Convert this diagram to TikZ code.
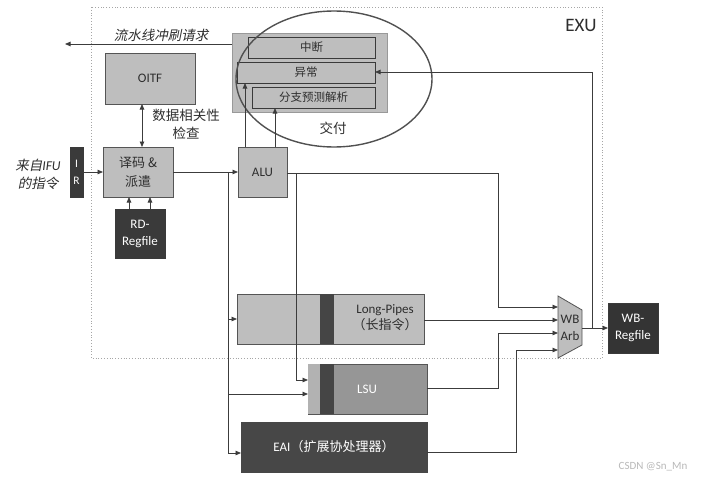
\documentclass[tikz,border=0pt]{standalone}
\usepackage{fontspec}
\setmainfont{Carlito}
\newfontfamily\cjk{Noto Sans CJK SC}
\newfontfamily\cjkit{Noto Sans CJK SC}[FakeSlant=0.2]
\usetikzlibrary{arrows.meta,shapes.geometric}
\definecolor{gfill}{HTML}{BEBEBE}
\definecolor{darkc}{HTML}{3A3A3A}
\definecolor{eaic}{HTML}{474747}
\definecolor{stripec}{HTML}{454545}
\definecolor{lsuc}{HTML}{969696}
\definecolor{lsul}{HTML}{B2B2B2}
\definecolor{linec}{HTML}{3C3C3C}
\definecolor{borderc}{HTML}{555555}
\definecolor{textc}{HTML}{2E2E2E}
\begin{document}
\begin{tikzpicture}[x=1pt,y=-1pt,
  font=\fontsize{13}{16}\selectfont,
  line/.style={draw=linec, line width=0.8pt},
  arr/.style={line, -{Triangle[length=5.5pt,width=4.5pt]}},
  darr/.style={line, {Triangle[length=5.5pt,width=4.5pt]}-{Triangle[length=5.5pt,width=4.5pt]}},
  gbox/.style={draw=borderc, fill=gfill, line width=0.8pt, inner sep=0pt, outer sep=0pt, text=textc, align=center},
  dbox/.style={draw=darkc, fill=darkc, line width=0.8pt, inner sep=0pt, outer sep=0pt, text=white, align=center},
  bar/.style={draw=darkc, fill=gfill, line width=0.8pt, inner sep=0pt, outer sep=0pt, text=textc, minimum height=21, font=\cjk\fontsize{11.5}{14}\selectfont},
  lbl/.style={inner sep=0pt, text=textc, align=center},
]
\useasboundingbox (0,0) rectangle (710,479);
\fill[white] (0,0) rectangle (710,479);

% EXU border
\draw[gray!70, dotted, line width=0.8pt] (91,7) rectangle (602,358);
\node[lbl, font=\fontsize{19}{22}\selectfont] (exu) at (581,25) {EXU};

% commit block
\node[gbox, draw=gray!80, minimum width=155, minimum height=79] (commit) at (309.5,72.5) {};
\node[bar, minimum width=127] (intr) at (311.5,47.5) {中断};
\node[bar, minimum width=138] (exc) at (306,72.5) {异常};
\node[bar, minimum width=123] (brc) at (313.5,97.5) {分支预测解析};
\node[draw=linec!90, line width=1.4pt, ellipse, minimum width=196, minimum height=136, inner sep=0pt] (ell) at (334,79) {};
\node[lbl, font=\cjk\fontsize{13.5}{16}\selectfont] (jf) at (333,128) {交付};

% flush request
\coordinate (flushend) at (65,44);
\draw[arr] (commit.west |- flushend) -- (flushend);
\node[lbl, font=\cjkit\fontsize{13.5}{16}\selectfont] (flushlbl) at (161,35) {流水线冲刷请求};

% OITF
\node[gbox, minimum width=90, minimum height=51, font=\fontsize{13}{16}\selectfont] (oitf) at (150,78.5) {OITF};
\node[lbl, font=\cjk\fontsize{13.5}{18}\selectfont] (dep) at (186,124) {数据相关性\\检查};

% decode
\node[gbox, minimum width=70, minimum height=50, font=\cjk\fontsize{13}{19}\selectfont] (dec) at (138,172) {译码 \&\\派遣};
\node[dbox, minimum width=13, minimum height=50, font=\fontsize{11.5}{17}\selectfont] (ir) at (76.5,172) {I\\R};
\node[lbl, font=\fontsize{13.5}{18}\selectfont] (ifu) at (38,174) {{\cjkit 来自}\textit{IFU}\\{\cjkit 的指令}};
\node[dbox, minimum width=50, minimum height=49, font=\fontsize{13}{17}\selectfont] (rd) at (140,233.5) {RD-\\Regfile};

% ALU
\node[gbox, minimum width=49, minimum height=50] (alu) at (262.5,172) {ALU};

% Long-Pipes
\node[gbox, minimum width=187, minimum height=50] (lp) at (330.5,319) {};
\fill[stripec] (320,294.4) rectangle (334,343.6);
\node[lbl] (lptxt) at (385,318) {Long-Pipes\\{\cjk （长指令）}};

% LSU
\node[gbox, fill=lsuc, minimum width=119, minimum height=50] (lsu) at (367.5,389) {};
\fill[lsul] (308.4,364.4) rectangle (320,413.6);
\fill[stripec] (320,364.4) rectangle (334,413.6);
\node[lbl, text=white] (lsutxt) at (367,389) {LSU};

% EAI
\node[dbox, fill=eaic, draw=eaic, minimum width=186, minimum height=50] (eai) at (334,447) {EAI{\cjk （扩展协处理器）}};

% WB Arb
\draw[draw=borderc, fill=gfill, line width=0.8pt] (558,296) -- (582,310) -- (582,345) -- (558,358) -- cycle;
\node[lbl, font=\fontsize{13}{17}\selectfont] (arb) at (570,328) {WB\\Arb};
\coordinate (arbout) at (582,328);
\coordinate (in1) at (558,307);
\coordinate (in2) at (558,320);
\coordinate (in3) at (558,333);
\coordinate (in4) at (558,350);

% WB Regfile
\node[dbox, fill=darkc!90!black, minimum width=50, minimum height=50, font=\fontsize{13}{17}\selectfont] (wbr) at (633,328) {WB-\\Regfile};

% connectors
\draw[arr] (ir.east) -- (dec.west);
\draw[darr] (oitf.south -| 142,0) -- (dec.north -| 142,0);
\draw[arr] (rd.north -| 129,0) -- (dec.south -| 129,0);
\draw[arr] (rd.north -| 150,0) -- (dec.south -| 150,0);
\draw[arr] (dec.east) -- (alu.west);

\coordinate (j1) at (228,172);
\draw[line] (j1) -- (228,453);
\draw[arr] (228,319) -- (lp.west);
\draw[arr] (228,394) -- (lsu.west |- 0,394);
\draw[arr] (228,453) -- (eai.west |- 0,453);

\draw[arr] (alu.north -| 245,0) -- (exc.south -| 245,0);
\draw[arr] (alu.north -| 275,0) -- (brc.south -| 275,0);

\draw[arr] (alu.east |- 0,173) -- (498,173) -- (498,307) -- (in1);
\draw[arr] (296,173) -- (296,380) -- (lsu.west |- 0,380);

\draw[arr] (lp.east |- in2) -- (in2);
\draw[arr] (lsu.east |- 0,388) -- (498,388) -- (498,333) -- (in3);
\draw[arr] (eai.east |- 0,452) -- (516,452) -- (516,350) -- (in4);

\draw[arr] (arbout) -- (wbr.west);
\draw[arr] (592,328) -- (592,72) -- (exc.east |- 0,72);

\node[lbl, text=gray!55, font=\fontsize{11}{13}\selectfont] (wm) at (653,467) {CSDN @Sn\_Mn};
\end{tikzpicture}
\end{document}
